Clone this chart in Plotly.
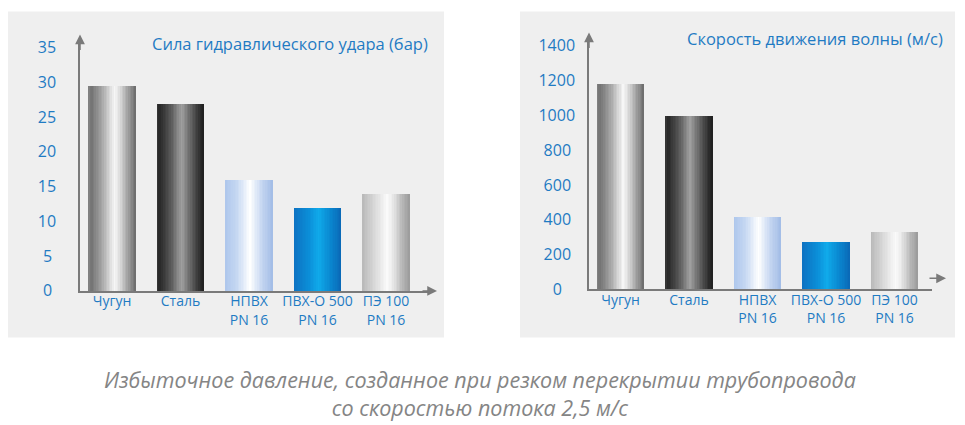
import plotly.graph_objects as go

# ---------------- data ----------------
categories = ["Чугун", "Сталь", "НПВХ<br>PN 16", "ПВХ-О 500<br>PN 16", "ПЭ 100<br>PN 16"]
pressure_bar = [29.5, 27, 16, 12, 14]          # Сила гидравлического удара (бар)
wave_speed = [1180, 1000, 420, 275, 330]       # Скорость движения волны (м/с)

left_tickvals = [0, 5, 10, 15, 20, 25, 30, 35]
left_ticktext = ["0\u2005", "5\u2005", "10", "15", "20", "25", "30", "35"]
right_tickvals = [0, 200, 400, 600, 800, 1000, 1200, 1400]
right_ticktext = ["0\u2007\u2005", "200\u2005", "400\u2005", "600\u2005", "800\u2005", "1000", "1200", "1400"]

left_title = "Сила гидравлического удара (бар)"
right_title = "Скорость движения волны (м/с)"
caption_1 = "Избыточное давление, созданное при резком перекрытии трубопровода"
caption_2 = "со скоростью потока 2,5 м/с"

# ---------------- styles ----------------
W, H = 965, 425
FONT = "Open Sans"
BLUE = "#1f7bc3"
AXIS = "#7a7a7a"
PANEL = "#efefef"
BAR_W = 0.70
N_STRIPS = 30

gradients = [
    [(0, "#858585"), (0.07, "#727272"), (0.3, "#a8a8a8"), (0.55, "#f6f6f6"), (0.63, "#e6e6e6"), (0.85, "#9a9a9a"), (1, "#6a6a6a")],
    [(0, "#3a3a3a"), (0.06, "#262626"), (0.3, "#5a5a5a"), (0.52, "#a0a0a0"), (0.75, "#5a5a5a"), (0.92, "#2a2a2a"), (1, "#1e1e1e")],
    [(0, "#adc6ec"), (0.25, "#c6d8f2"), (0.52, "#ffffff"), (0.78, "#c2d4f0"), (1, "#a2bce6")],
    [(0, "#0d72c2"), (0.3, "#0b8cd6"), (0.52, "#10aaea"), (0.75, "#0a8ad2"), (1, "#0a68b6")],
    [(0, "#b8b8b8"), (0.3, "#dedede"), (0.52, "#fafafa"), (0.62, "#eeeeee"), (0.85, "#b4b4b4"), (1, "#9a9a9a")],
]


def hex2rgb(h):
    h = h.lstrip("#")
    return [int(h[i:i + 2], 16) for i in (0, 2, 4)]


def interp(stops, t):
    for (t0, c0), (t1, c1) in zip(stops[:-1], stops[1:]):
        if t0 <= t <= t1:
            f = 0 if t1 == t0 else (t - t0) / (t1 - t0)
            a, b = hex2rgb(c0), hex2rgb(c1)
            r = [round(a[i] + (b[i] - a[i]) * f) for i in range(3)]
            return "rgb(%d,%d,%d)" % tuple(r)
    return stops[-1][1]


VS = 0.957   # observed vertical compression of the rendered page
VO = 5.5


def px(x):
    return x / W


def py(y):
    yy = (y - VO) / VS
    return 1 - yy / H


fig = go.Figure()
xs = list(range(len(categories)))


def add_bars(values, xa, ya):
    for k in range(N_STRIPS):
        t = (k + 0.5) / N_STRIPS
        colors = [interp(g, t) for g in gradients]
        fig.add_trace(go.Bar(
            x=xs, y=values,
            offset=-BAR_W / 2 + k * BAR_W / N_STRIPS,
            width=BAR_W - k * BAR_W / N_STRIPS,
            marker=dict(color=colors, line=dict(width=0)),
            xaxis=xa, yaxis=ya, showlegend=False, hoverinfo="skip",
        ))


add_bars(pressure_bar, "x", "y")
add_bars(wave_speed, "x2", "y2")

tickfont = dict(family=FONT, size=16, color=BLUE)
catfont = dict(family=FONT, size=14, color=BLUE)

common_x = dict(tickmode="array", tickvals=xs, ticktext=categories, tickfont=catfont,
                showline=True, linecolor=AXIS, linewidth=1.5, showgrid=False,
                zeroline=False, ticks="", fixedrange=True, ticklabelstandoff=-3)
common_y = dict(tickmode="array", tickfont=tickfont, showline=True, linecolor=AXIS,
                linewidth=1.5, showgrid=False, zeroline=False, ticks="", fixedrange=True)

fig.update_layout(
    width=W, height=H,
    margin=dict(l=0, r=0, t=0, b=0),
    paper_bgcolor="white", plot_bgcolor="rgba(0,0,0,0)",
    barmode="overlay", bargap=0,
    font=dict(family=FONT),
    xaxis=dict(domain=[px(80), px(432)], range=[-32 / 68.5, 4 + 46 / 68.5], anchor="y", **common_x),
    yaxis=dict(domain=[py(289.5), py(40)], range=[0, 249.5 / 6.93], anchor="x",
               tickvals=left_tickvals, ticktext=left_ticktext, ticklabelstandoff=19, **common_y),
    xaxis2=dict(domain=[px(589), px(932)], range=[-31.5 / 68.5, 4 + 37.5 / 68.5], anchor="y2", **common_x),
    yaxis2=dict(domain=[py(288), py(40)], range=[0, 248 / 0.17357], anchor="x2",
                tickvals=right_tickvals, ticktext=right_ticktext, ticklabelstandoff=9, **common_y),
    shapes=[
        dict(type="rect", xref="paper", yref="paper", x0=px(8), x1=px(444), y0=py(336), y1=py(11),
             fillcolor=PANEL, line=dict(width=0), layer="below"),
        dict(type="rect", xref="paper", yref="paper", x0=px(520), x1=px(955), y0=py(336), y1=py(11),
             fillcolor=PANEL, line=dict(width=0), layer="below"),
    ],
)


def arrow(xt, yt, ax, ay):
    return dict(xref="paper", yref="paper", x=px(xt), y=py(yt), text="", showarrow=True,
                arrowhead=2, arrowsize=1.3, arrowwidth=1.5, arrowcolor=AXIS,
                ax=ax, ay=ay, standoff=0)


annotations = [
    arrow(80, 34, 0, 17),
    arrow(437, 289.5, -16, 0),
    arrow(589, 32, 0, 17),
    arrow(946, 277, -18, 0),
    dict(xref="paper", yref="paper", x=px(430), y=py(43), xanchor="right", yanchor="middle",
         text=left_title, showarrow=False, font=dict(family=FONT, size=16.5, color=BLUE)),
    dict(xref="paper", yref="paper", x=px(945), y=py(38), xanchor="right", yanchor="middle",
         text=right_title, showarrow=False, font=dict(family=FONT, size=16.5, color=BLUE)),
    dict(xref="paper", yref="paper", x=px(480), y=py(391.5), xanchor="center", yanchor="middle",
         text="<i>" + caption_1 + "<br>" + caption_2 + "</i>", showarrow=False, align="center",
         font=dict(family=FONT, size=21.5, color="#858585")),
]
fig.update_layout(annotations=annotations)

fig.write_html("out.html")
